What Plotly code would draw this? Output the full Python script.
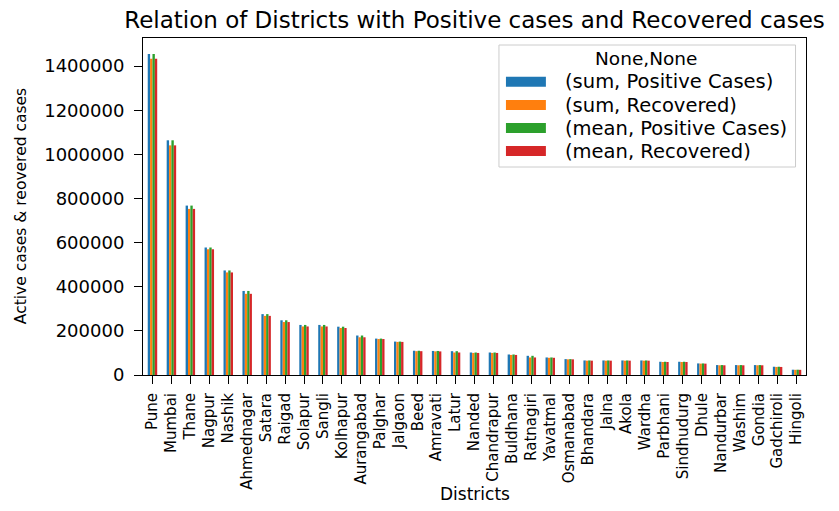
import plotly.graph_objects as go

districts = ["Pune", "Mumbai", "Thane", "Nagpur", "Nashik", "Ahmednagar", "Satara", "Raigad",
             "Solapur", "Sangli", "Kolhapur", "Aurangabad", "Palghar", "Jalgaon", "Beed", "Amravati",
             "Latur", "Nanded", "Chandrapur", "Buldhana", "Ratnagiri", "Yavatmal", "Osmanabad",
             "Bhandara", "Jalna", "Akola", "Wardha", "Parbhani", "Sindhudurg", "Dhule", "Nandurbar",
             "Washim", "Gondia", "Gadchiroli", "Hingoli"]

pos_sum = [1455000, 1064000, 768000, 578000, 474000, 381000, 276000, 248000,
           227000, 227000, 219000, 179000, 165000, 151500, 110000, 109000,
           108000, 102000, 102000, 93000, 87000, 79500, 72000,
           66000, 66000, 66000, 66000, 60000, 60000, 52500, 45000,
           45000, 45000, 37500, 24000]
rec_sum = [1434000, 1041000, 753000, 570000, 465000, 368000, 268000, 240000,
           220000, 220000, 213000, 171000, 163000, 150000, 108000, 107000,
           102000, 100000, 100000, 91000, 79500, 78000, 71000,
           65000, 65000, 65000, 65000, 59000, 59000, 51500, 44000,
           44000, 44000, 36500, 23500]
pos_mean = [1455000, 1064000, 768000, 578000, 474000, 381000, 276000, 248000,
            227000, 227000, 219000, 179000, 165000, 151500, 110000, 109000,
            108000, 102000, 102000, 93000, 87000, 79500, 72000,
            66000, 66000, 66000, 66000, 60000, 60000, 52500, 45000,
            45000, 45000, 37500, 24000]
rec_mean = [1434000, 1041000, 753000, 570000, 465000, 368000, 268000, 240000,
            220000, 220000, 213000, 171000, 163000, 150000, 108000, 107000,
            102000, 100000, 100000, 91000, 79500, 78000, 71000,
            65000, 65000, 65000, 65000, 59000, 59000, 51500, 44000,
            44000, 44000, 36500, 23500]

series_names = ["(sum, Positive Cases)", "(sum, Recovered)", "(mean, Positive Cases)", "(mean, Recovered)"]
series_values = [pos_sum, rec_sum, pos_mean, rec_mean]
colors = ["#1f77b4", "#ff7f0e", "#2ca02c", "#d62728"]
y_ticks = [0, 200000, 400000, 600000, 800000, 1000000, 1200000, 1400000]

# page body has an 8px margin; work in screenshot pixels and shift
OFF = 8
W, H = 839 - 2 * OFF, 511 - 2 * OFF
L, R, T, B = 142.5, 806.5, 38, 375   # plot area in screenshot pixels
FONT = "DejaVu Sans"

def px(x):
    return (x - L) / (R - L)

def py(y):
    return (B - y) / (B - T)

fig = go.Figure()
for name, vals, col in zip(series_names, series_values, colors):
    fig.add_trace(go.Bar(x=districts, y=vals, name=name, marker_color=col,
                         marker_line_width=0, showlegend=False))

ymax = max(max(v) for v in series_values) * 1.05

fig.update_layout(
    width=W, height=H,
    margin=dict(l=L - OFF, r=W - (R - OFF), t=T - OFF, b=H - (B - OFF), pad=0),
    barmode="group", bargap=0.5, bargroupgap=0,
    plot_bgcolor="white", paper_bgcolor="white",
    font=dict(family=FONT, color="black"),
    title=dict(text="Relation of Districts with Positive cases and Recovered cases",
               x=0.5, xref="paper", xanchor="center",
               y=1 - (20 - OFF) / H, yref="container", yanchor="middle",
               font=dict(size=23, family=FONT, color="black")),
)
fig.update_xaxes(type="category", range=[-0.5, len(districts) - 0.5],
                 tickangle=-90, ticks="outside", ticklen=8, tickwidth=1, tickcolor="black",
                 showline=True, linecolor="black", linewidth=1, mirror=True,
                 showgrid=False, tickfont=dict(size=15, family=FONT, color="black"),
                 ticklabelstandoff=3)
fig.update_yaxes(range=[0, ymax], tickvals=y_ticks, ticktext=[str(v) for v in y_ticks],
                 ticks="outside", ticklen=8, tickwidth=1, tickcolor="black",
                 showline=True, linecolor="black", linewidth=1, mirror=True,
                 showgrid=False, zeroline=False,
                 tickfont=dict(size=18, family=FONT, color="black"),
                 ticklabelstandoff=6)

annotations = [
    dict(text="Districts", x=0.5, y=py(494), xref="paper", yref="paper",
         xanchor="center", yanchor="middle", showarrow=False,
         font=dict(size=17, family=FONT, color="black")),
    dict(text="Active cases & reovered cases", x=px(20), y=0.5, xref="paper", yref="paper",
         xanchor="center", yanchor="middle", textangle=-90, showarrow=False,
         font=dict(size=15.5, family=FONT, color="black")),
    dict(text="None,None", x=px(646.7), y=py(58.3), xref="paper", yref="paper",
         xanchor="center", yanchor="middle", showarrow=False,
         font=dict(size=18.5, family=FONT, color="black")),
]
shapes = [
    dict(type="rect", xref="paper", yref="paper", x0=px(499), x1=px(796), y0=py(167), y1=py(45),
         line=dict(color="#cccccc", width=1), fillcolor="rgba(255,255,255,0.8)", layer="above"),
]
legend_y = [81.7, 105, 128, 151]
for name, col, yc in zip(series_names, colors, legend_y):
    shapes.append(dict(type="rect", xref="paper", yref="paper", x0=px(506), x1=px(546),
                       y0=py(yc + 5), y1=py(yc - 5), line=dict(width=0), fillcolor=col,
                       layer="above"))
    annotations.append(dict(text=name, x=px(563), y=py(yc), xref="paper", yref="paper",
                            xanchor="left", yanchor="middle", showarrow=False,
                            font=dict(size=19.5, family=FONT, color="black")))

fig.update_layout(annotations=annotations, shapes=shapes)
fig.write_html("out.html")
